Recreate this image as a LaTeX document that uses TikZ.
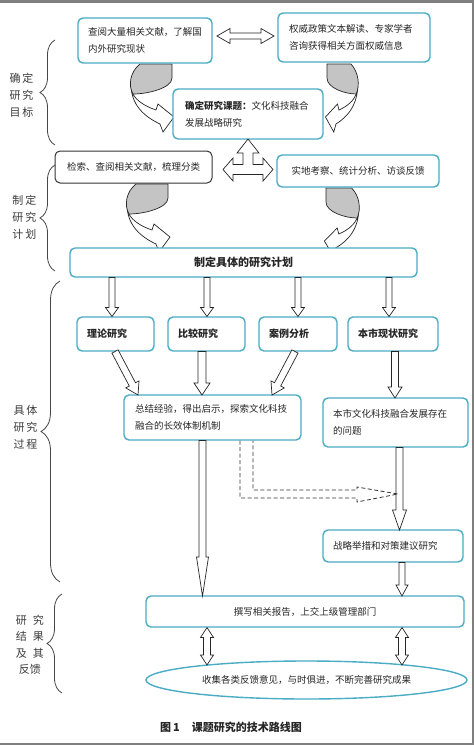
\documentclass[tikz,border=0pt]{standalone}
\usepackage{fontspec}
\setmainfont{Noto Sans CJK SC}
\usetikzlibrary{calc,decorations.pathreplacing,shapes.geometric}
\definecolor{aqua}{HTML}{4BACC6}
\definecolor{framegray}{HTML}{7F7F7F}
\definecolor{txt}{HTML}{262626}
\definecolor{ribgray}{HTML}{C4C4C4}
\newcommand{\barrow}[5]{%
  \coordinate (ba) at (#1); \coordinate (bb) at (#2);
  \coordinate (bh) at ($(bb)!#5pt!(ba)$);
  \draw[blk] ($(ba)!#3pt!90:(bb)$) -- ($(bh)!#3pt!90:(bb)$) -- ($(bh)!#4pt!90:(bb)$) -- (bb)
    -- ($(bh)!#4pt!-90:(bb)$) -- ($(bh)!#3pt!-90:(bb)$) -- ($(ba)!#3pt!-90:(bb)$) -- cycle;}
\newcommand{\dbarrow}[5]{%
  \coordinate (ba) at (#1); \coordinate (bb) at (#2);
  \coordinate (h1) at ($(ba)!#5pt!(bb)$); \coordinate (h2) at ($(bb)!#5pt!(ba)$);
  \draw[blk] (ba) -- ($(h1)!#4pt!90:(bb)$) -- ($(h1)!#3pt!90:(bb)$) -- ($(h2)!#3pt!-90:(ba)$)
    -- ($(h2)!#4pt!-90:(ba)$) -- (bb) -- ($(h2)!#4pt!90:(ba)$) -- ($(h2)!#3pt!90:(ba)$)
    -- ($(h1)!#3pt!-90:(bb)$) -- ($(h1)!#4pt!-90:(bb)$) -- cycle;}
\newcommand{\ribbonshape}{%
  \draw[ribline, fill=white] (-41,18) .. controls (-42,41) and (-27,53) .. (-12,60) -- (-9,68) -- (2,53)
    -- (-14,40) -- (-16,46) .. controls (-28,42) and (-36,36) .. (-39,30) -- cycle;
  \draw[ribline, fill=ribgray] (-32,0) .. controls (-42,8) and (-44,21) .. (-39,30)
    .. controls (-24,30) and (0,24) .. (0,14) -- (0,0) -- cycle;}
\tikzset{
  box/.style={draw=aqua, line width=1.4pt, rounded corners=5pt, fill=white, text=txt,
    inner ysep=0pt, font=\fontsize{9.5}{17}\selectfont},
  lbox/.style={box, align=left},
  bbox/.style={box, font=\bfseries\fontsize{10}{17}\selectfont, align=left},
  blk/.style={draw=black!85, fill=white, line width=0.7pt, line join=miter},
  ribline/.style={draw=black!85, line width=0.7pt},
  brc/.style={decorate, decoration={brace, amplitude=#1}, draw=txt!85, line width=0.8pt},
  side/.style={align=center, text=txt!90, font=\fontsize{11}{17}\selectfont, inner sep=0pt}
}
\begin{document}
\begin{tikzpicture}[x=1pt,y=-1pt]
\useasboundingbox (0,0) rectangle (474,745);
\fill[white] (0,0) rectangle (474,745);
\fill[framegray] (0,0) rectangle (474,2.5);
\fill[framegray] (471.5,0) rectangle (474,745);
\fill[framegray] (0,742.5) rectangle (474,745);

% curved ribbon arrows (drawn under boxes)
\begin{scope}[shift={(172,64)}]\ribbonshape\end{scope}
\begin{scope}[shift={(327,64)}, xscale=-0.75]\ribbonshape\end{scope}
\begin{scope}[shift={(168,184)}]\ribbonshape\end{scope}
\begin{scope}[shift={(326,188)}, xscale=-0.8]\ribbonshape\end{scope}

% boxes
\node[lbox, text width=114pt, inner xsep=10pt, minimum height=45pt] (A) at (145,40.5)
  {查阅大量相关文献，了解国\\内外研究现状};
\node[lbox, text width=130pt, inner xsep=11pt, minimum height=49pt] (B) at (354,37.5)
  {权威政策文本解读、专家学者\\咨询获得相关方面权威信息};
\node[lbox, text width=126pt, inner xsep=12pt, minimum height=50pt] (C) at (248,114)
  {\textbf{确定研究课题：}文化科技融合\\发展战略研究};
\node[box, draw=black!80, line width=1pt, minimum width=157pt, minimum height=32pt] (D) at (133.5,167)
  {检索、查阅相关文献，梳理分类};
\node[box, minimum width=162pt, minimum height=32pt] (E) at (358,171)
  {实地考察、统计分析、访谈反馈};
\node[box, font=\bfseries\fontsize{11}{17}\selectfont, minimum width=347pt, minimum height=29pt] (F) at (243.5,262.5)
  {制定具体的研究计划};
\node[bbox, text width=57pt, inner xsep=10pt, minimum height=34pt] (P1) at (115.5,334) {理论研究};
\node[bbox, text width=57pt, inner xsep=10pt, minimum height=34pt] (P2) at (206.5,334) {比较研究};
\node[bbox, text width=58pt, inner xsep=10pt, minimum height=34pt] (P3) at (298,334) {案例分析};
\node[bbox, text width=70pt, inner xsep=10pt, minimum height=34pt] (P4) at (393,334) {本市现状研究};
\node[lbox, text width=155pt, inner xsep=11pt, minimum height=45pt] (G) at (212.5,417.5)
  {总结经验，得出启示，探索文化科技\\融合的长效体制机制};
\node[lbox, text width=125pt, inner xsep=10pt, minimum height=49pt] (H) at (395.5,422.5)
  {本市文化科技融合发展存在\\的问题};
\node[lbox, text width=120pt, inner xsep=10pt, minimum height=32pt] (I) at (393,546)
  {战略举措和对策建议研究};
\node[box, minimum width=318pt, minimum height=31pt] (J) at (305,611.5)
  {撰写相关报告，上交上级管理部门};
\node[box, ellipse, inner sep=0pt, minimum width=321pt, minimum height=38pt] (K) at (306.5,680)
  {收集各类反馈意见，与时俱进，不断完善研究成果};

% caption
\node[font=\bfseries\fontsize{11}{13}\selectfont, text=txt, inner sep=0pt] (cap) at (231,727)
  {图\,1\hspace{1.1em}课题研究的技术路线图};

% side labels and braces
\node[side] (L1) at (21.5,95) {确\hspace{2pt}定\\研\hspace{2pt}究\\目\hspace{2pt}标};
\node[side] (L2) at (24.5,217.5) {制\hspace{2pt}定\\研\hspace{2pt}究\\计\hspace{2pt}划};
\node[side] (L3) at (25.5,427) {具\hspace{2pt}体\\研\hspace{2pt}究\\过\hspace{2pt}程};
\node[side, font=\fontsize{11}{16.5}\selectfont] (L4) at (30,645) {研\hspace{6pt}究\\结\hspace{6pt}果\\及\hspace{6pt}其\\反馈\hspace{6pt}};
\draw[brc=15pt] (55,145) -- (55,40);
\draw[brc=15pt] (55,271) -- (55,165);
\draw[brc=19pt] (60,582) -- (60,281);
\draw[brc=15pt] (62,693) -- (62,594);

% block arrows
\dbarrow{217,36}{274,36}{3}{7.5}{13}
\draw[blk] (248,139) -- (259,153) -- (253,153) -- (253,164.5) -- (263,164.5) -- (263,158) -- (273,169.5)
  -- (263,181) -- (263,174.5) -- (233,174.5) -- (233,181) -- (223,169.5) -- (233,158) -- (233,164.5)
  -- (243,164.5) -- (243,153) -- (237,153) -- cycle;
\barrow{112,277.5}{112,316.5}{3}{6.5}{9}
\barrow{207,277.5}{207,316.5}{3}{6.5}{9}
\barrow{298,277.5}{298,316.5}{3}{6.5}{9}
\barrow{389,277.5}{389,316.5}{3}{6.5}{9}
\barrow{115,351.5}{138,395}{3.5}{7.5}{12}
\barrow{202,351.5}{202,395}{4}{8}{12}
\barrow{295,351.5}{272,395}{3.5}{7.5}{12}
\barrow{395,351.5}{395,398}{3.5}{7}{11}
\barrow{202.5,440.5}{202.5,596}{3.5}{6}{39}
\barrow{399.5,447.5}{399.5,530}{3.5}{7}{20}
\barrow{402,562.5}{402,596}{3}{6}{11}
\dbarrow{207,627.5}{207,665}{3.5}{6.5}{10}
\dbarrow{402,627.5}{402,665}{3.5}{6.5}{10}

% dashed block arrow
\draw[draw=black!80, line width=0.8pt, dash pattern=on 4pt off 2.5pt, line join=miter]
  (240,440.5) -- (240,498) -- (357,498) -- (357,502) -- (398,494) -- (357,487) -- (357,490)
  -- (253,490) -- (253,440.5);
\end{tikzpicture}
\end{document}
